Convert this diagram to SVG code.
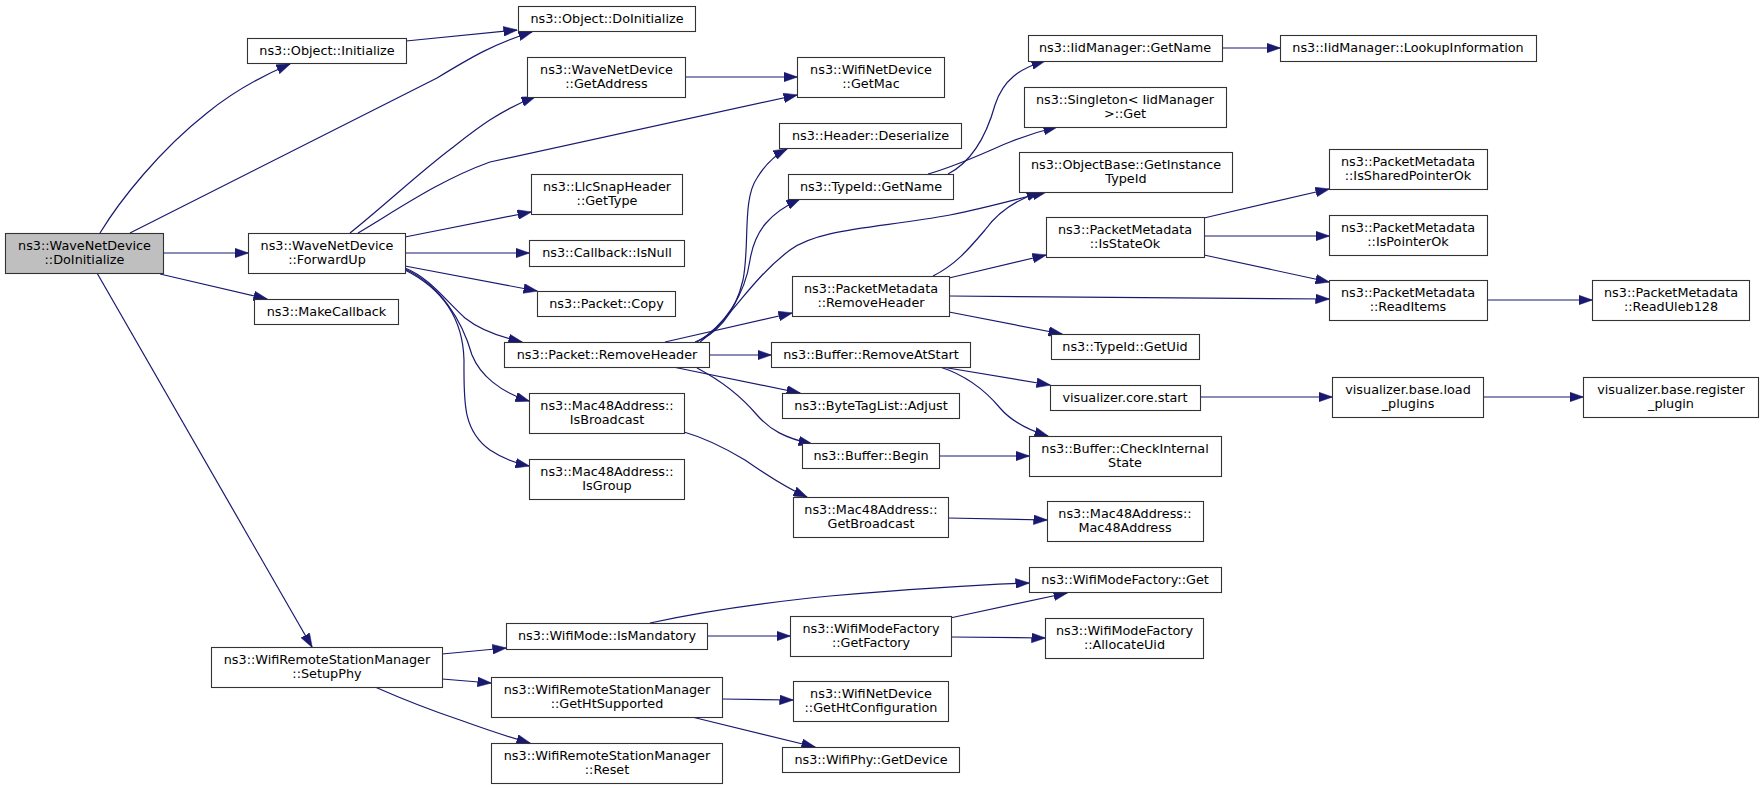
<svg xmlns="http://www.w3.org/2000/svg" width="1763" height="788" viewBox="0 0 1763 788">
<style>
.n rect{fill:#fff;stroke:#333;stroke-width:1.1}
.root rect{fill:#bfbfbf}
text{font-family:"DejaVu Sans","Liberation Sans",sans-serif;font-size:12.8px;fill:#000;text-anchor:middle}
#edges path{fill:none;stroke:#191970;stroke-width:1.2;marker-end:url(#ah)}
</style>
<defs>
<marker id="ah" markerUnits="userSpaceOnUse" markerWidth="14" markerHeight="10" viewBox="0 0 13.5 9.4" refX="13" refY="4.7" orient="auto">
<path d="M0,0 L13.5,4.7 L0,9.4 z" fill="#191970" stroke="#191970" stroke-width="0.5"/>
</marker>
</defs>
<rect width="1763" height="788" fill="#fff"/>
<g id="edges">
<path d="M100,233 C120,200 160,150 207,113 C235,90 262,76 290,64"/>
<path d="M130,233 L437,78 C470,58 495,43 532,32"/>
<path d="M406,41 L517,30"/>
<path d="M163,253 L248,253"/>
<path d="M160,274 L267,299"/>
<path d="M97,273 L312,647"/>
<path d="M350,233 C385,205 420,172 452,148 C475,130 500,110 535,97"/>
<path d="M358,233 C400,208 440,180 490,162 L797,95"/>
<path d="M405,237 L531,212"/>
<path d="M405,253 L529,253"/>
<path d="M405,266 L537,291"/>
<path d="M405,268 C430,278 445,300 465,318 C480,330 500,337 522,342"/>
<path d="M405,269 C440,285 462,320 472,355 C480,375 500,392 529,401"/>
<path d="M405,270 C445,290 463,320 464,360 C464,400 462,430 490,450 C502,458 515,463 529,466"/>
<path d="M695,342 C715,335 735,315 743,280 C750,245 742,200 757,178 C765,165 775,155 787,149"/>
<path d="M697,342 C725,325 745,295 750,260 C755,230 770,213 800,199"/>
<path d="M700,342 C730,320 750,280 790,250 C820,228 880,228 950,215 C990,207 1020,198 1046,192"/>
<path d="M665,342 L792,313"/>
<path d="M709,355 L771,355"/>
<path d="M673,367 L800,393"/>
<path d="M697,368 C720,380 740,395 757,415 C770,430 785,438 812,444"/>
<path d="M685,77 L797,77"/>
<path d="M948,174 C975,160 988,130 995,105 C1003,80 1020,68 1045,61"/>
<path d="M928,174 C960,165 990,150 1010,142 C1025,136 1040,131 1057,127"/>
<path d="M1222,48 L1280,48"/>
<path d="M933,276 C955,265 968,250 985,230 C998,212 1015,200 1040,192"/>
<path d="M949,278 L1046,255"/>
<path d="M949,296 L1329,299"/>
<path d="M949,312 L1062,334"/>
<path d="M1204,218 L1329,189"/>
<path d="M1204,236 L1329,236"/>
<path d="M1204,255 L1329,282"/>
<path d="M1487,300 L1592,300"/>
<path d="M942,367 L1050,385"/>
<path d="M940,367 C965,375 985,390 1000,408 C1012,422 1028,430 1048,436"/>
<path d="M1200,397 L1332,397"/>
<path d="M1483,397 L1583,397"/>
<path d="M939,456 L1029,456"/>
<path d="M684,432 C705,438 725,448 745,460 C760,470 780,485 807,497"/>
<path d="M948,518 L1047,520"/>
<path d="M650,623 C700,612 760,603 830,596 C900,590 970,585 1029,583"/>
<path d="M707,636 L790,636"/>
<path d="M950,618 L1067,593"/>
<path d="M951,637 L1045,638"/>
<path d="M442,654 L506,648"/>
<path d="M442,679 L491,683"/>
<path d="M375,687 C400,698 430,710 460,720 C485,729 505,736 530,743"/>
<path d="M722,699 L793,700"/>
<path d="M692,717 L815,747"/>
</g>
<g id="n_doinit" class="n root"><rect x="5.5" y="233.5" width="158" height="40"/><text x="84.5" y="250">ns3::WaveNetDevice</text><text x="84.5" y="264">::DoInitialize</text></g>
<g id="n_objinit" class="n"><rect x="247.5" y="38.5" width="159" height="25"/><text x="327" y="54.5">ns3::Object::Initialize</text></g>
<g id="n_objdoinit" class="n"><rect x="518.5" y="6.5" width="177" height="25"/><text x="607" y="22.5">ns3::Object::DoInitialize</text></g>
<g id="n_forwardup" class="n"><rect x="248.5" y="233.5" width="157" height="40"/><text x="327" y="250">ns3::WaveNetDevice</text><text x="327" y="264">::ForwardUp</text></g>
<g id="n_makecb" class="n"><rect x="254.5" y="299.5" width="144" height="25"/><text x="326.5" y="315.5">ns3::MakeCallback</text></g>
<g id="n_setupphy" class="n"><rect x="211.5" y="647.5" width="231" height="40"/><text x="327" y="664">ns3::WifiRemoteStationManager</text><text x="327" y="678">::SetupPhy</text></g>
<g id="n_getaddr" class="n"><rect x="527.5" y="57.5" width="158" height="40"/><text x="606.5" y="74">ns3::WaveNetDevice</text><text x="606.5" y="88">::GetAddress</text></g>
<g id="n_getmac" class="n"><rect x="797.5" y="57.5" width="147" height="40"/><text x="871" y="74">ns3::WifiNetDevice</text><text x="871" y="88">::GetMac</text></g>
<g id="n_llc" class="n"><rect x="531.5" y="174.5" width="151" height="40"/><text x="607" y="191">ns3::LlcSnapHeader</text><text x="607" y="205">::GetType</text></g>
<g id="n_isnull" class="n"><rect x="529.5" y="240.5" width="155" height="26"/><text x="607" y="257">ns3::Callback::IsNull</text></g>
<g id="n_copy" class="n"><rect x="537.5" y="291.5" width="138" height="25"/><text x="606.5" y="307.5">ns3::Packet::Copy</text></g>
<g id="n_rmhdr" class="n"><rect x="504.5" y="342.5" width="205" height="25"/><text x="607" y="358.5">ns3::Packet::RemoveHeader</text></g>
<g id="n_isbcast" class="n"><rect x="529.5" y="393.5" width="155" height="40"/><text x="607" y="410">ns3::Mac48Address::</text><text x="607" y="424">IsBroadcast</text></g>
<g id="n_isgroup" class="n"><rect x="529.5" y="459.5" width="155" height="40"/><text x="607" y="476">ns3::Mac48Address::</text><text x="607" y="490">IsGroup</text></g>
<g id="n_deser" class="n"><rect x="779.5" y="123.5" width="182" height="25"/><text x="870.5" y="139.5">ns3::Header::Deserialize</text></g>
<g id="n_tidname" class="n"><rect x="788.5" y="174.5" width="165" height="25"/><text x="871" y="190.5">ns3::TypeId::GetName</text></g>
<g id="n_pmrmhdr" class="n"><rect x="792.5" y="276.5" width="157" height="40"/><text x="871" y="293">ns3::PacketMetadata</text><text x="871" y="307">::RemoveHeader</text></g>
<g id="n_rmstart" class="n"><rect x="771.5" y="342.5" width="199" height="25"/><text x="871" y="358.5">ns3::Buffer::RemoveAtStart</text></g>
<g id="n_adjust" class="n"><rect x="782.5" y="393.5" width="177" height="25"/><text x="871" y="409.5">ns3::ByteTagList::Adjust</text></g>
<g id="n_begin" class="n"><rect x="802.5" y="443.5" width="137" height="25"/><text x="871" y="459.5">ns3::Buffer::Begin</text></g>
<g id="n_getbcast" class="n"><rect x="793.5" y="497.5" width="155" height="40"/><text x="871" y="514">ns3::Mac48Address::</text><text x="871" y="528">GetBroadcast</text></g>
<g id="n_iidname" class="n"><rect x="1028.5" y="35.5" width="194" height="26"/><text x="1125" y="52">ns3::IidManager::GetName</text></g>
<g id="n_singleton" class="n"><rect x="1024.5" y="87.5" width="202" height="40"/><text x="1125" y="104">ns3::Singleton&lt; IidManager</text><text x="1125" y="118">&gt;::Get</text></g>
<g id="n_objbase" class="n"><rect x="1019.5" y="152.5" width="213" height="40"/><text x="1126" y="169">ns3::ObjectBase::GetInstance</text><text x="1126" y="183">TypeId</text></g>
<g id="n_isstate" class="n"><rect x="1046.5" y="217.5" width="158" height="40"/><text x="1125" y="234">ns3::PacketMetadata</text><text x="1125" y="248">::IsStateOk</text></g>
<g id="n_getuid" class="n"><rect x="1051.5" y="334.5" width="148" height="25"/><text x="1125" y="350.5">ns3::TypeId::GetUid</text></g>
<g id="n_vstart" class="n"><rect x="1050.5" y="385.5" width="150" height="25"/><text x="1125" y="401.5">visualizer.core.start</text></g>
<g id="n_chkint" class="n"><rect x="1029.5" y="436.5" width="192" height="40"/><text x="1125" y="453">ns3::Buffer::CheckInternal</text><text x="1125" y="467">State</text></g>
<g id="n_mac48" class="n"><rect x="1047.5" y="501.5" width="156" height="40"/><text x="1125" y="518">ns3::Mac48Address::</text><text x="1125" y="532">Mac48Address</text></g>
<g id="n_wmfget" class="n"><rect x="1029.5" y="567.5" width="192" height="25"/><text x="1125" y="583.5">ns3::WifiModeFactory::Get</text></g>
<g id="n_alloc" class="n"><rect x="1045.5" y="618.5" width="158" height="40"/><text x="1124.5" y="635">ns3::WifiModeFactory</text><text x="1124.5" y="649">::AllocateUid</text></g>
<g id="n_lookup" class="n"><rect x="1280.5" y="35.5" width="256" height="26"/><text x="1408" y="52">ns3::IidManager::LookupInformation</text></g>
<g id="n_shptr" class="n"><rect x="1329.5" y="149.5" width="158" height="40"/><text x="1408" y="166">ns3::PacketMetadata</text><text x="1408" y="180">::IsSharedPointerOk</text></g>
<g id="n_ptrok" class="n"><rect x="1329.5" y="215.5" width="158" height="40"/><text x="1408" y="232">ns3::PacketMetadata</text><text x="1408" y="246">::IsPointerOk</text></g>
<g id="n_readitems" class="n"><rect x="1329.5" y="280.5" width="158" height="40"/><text x="1408" y="297">ns3::PacketMetadata</text><text x="1408" y="311">::ReadItems</text></g>
<g id="n_uleb" class="n"><rect x="1592.5" y="280.5" width="157" height="40"/><text x="1671" y="297">ns3::PacketMetadata</text><text x="1671" y="311">::ReadUleb128</text></g>
<g id="n_loadpl" class="n"><rect x="1332.5" y="377.5" width="151" height="40"/><text x="1408" y="394">visualizer.base.load</text><text x="1408" y="408">_plugins</text></g>
<g id="n_regpl" class="n"><rect x="1583.5" y="377.5" width="175" height="40"/><text x="1671" y="394">visualizer.base.register</text><text x="1671" y="408">_plugin</text></g>
<g id="n_ismand" class="n"><rect x="506.5" y="623.5" width="201" height="26"/><text x="607" y="640">ns3::WifiMode::IsMandatory</text></g>
<g id="n_htsup" class="n"><rect x="491.5" y="677.5" width="231" height="40"/><text x="607" y="694">ns3::WifiRemoteStationManager</text><text x="607" y="708">::GetHtSupported</text></g>
<g id="n_reset" class="n"><rect x="491.5" y="743.5" width="231" height="40"/><text x="607" y="760">ns3::WifiRemoteStationManager</text><text x="607" y="774">::Reset</text></g>
<g id="n_getfact" class="n"><rect x="790.5" y="616.5" width="161" height="40"/><text x="871" y="633">ns3::WifiModeFactory</text><text x="871" y="647">::GetFactory</text></g>
<g id="n_htconf" class="n"><rect x="793.5" y="681.5" width="155" height="40"/><text x="871" y="698">ns3::WifiNetDevice</text><text x="871" y="712">::GetHtConfiguration</text></g>
<g id="n_getdev" class="n"><rect x="782.5" y="747.5" width="177" height="25"/><text x="871" y="763.5">ns3::WifiPhy::GetDevice</text></g>
</svg>
